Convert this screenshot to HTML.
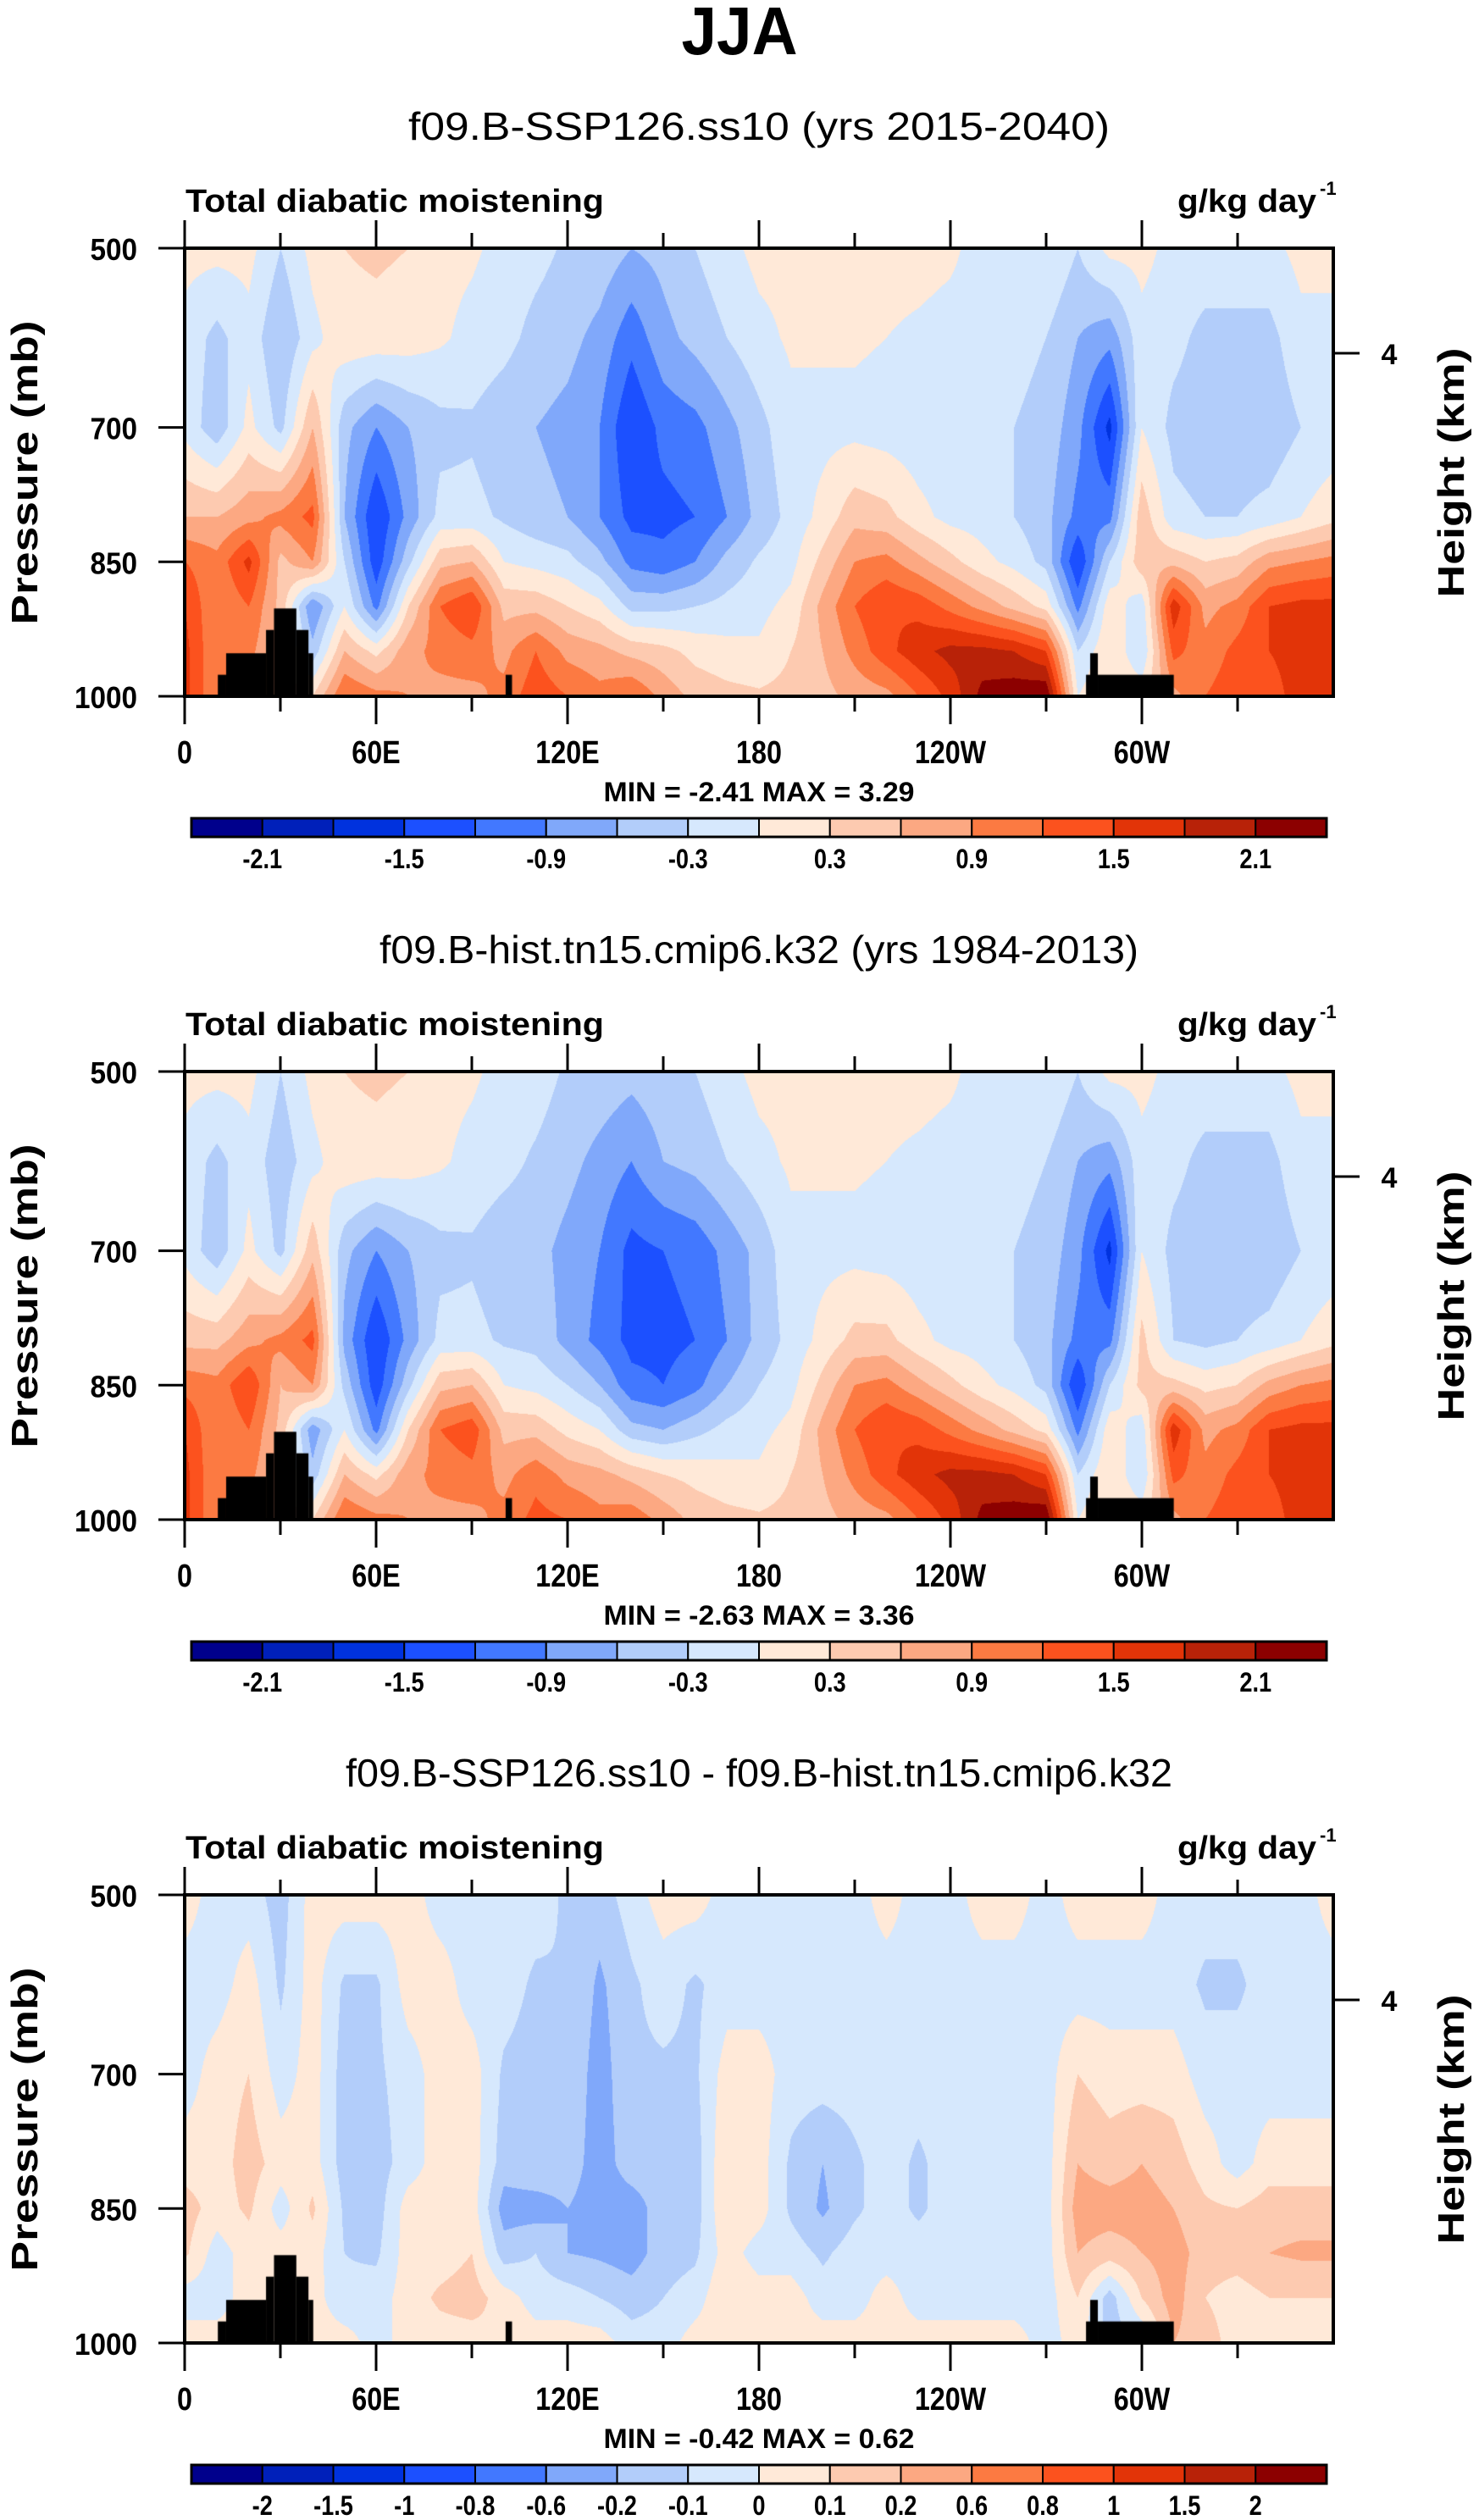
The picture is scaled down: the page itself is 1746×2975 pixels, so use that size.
<!DOCTYPE html>
<html><head><meta charset="utf-8">
<style>
html,body{margin:0;padding:0;background:#fff;}
#wrap{position:relative;width:1746px;height:2975px;overflow:hidden;background:#fff;}
canvas{position:absolute;}
svg{position:absolute;left:0;top:0;}
text{font-family:"Liberation Sans",sans-serif;fill:#000;}
</style></head>
<body>
<div id="wrap">
<canvas id="c0" width="1356" height="529" style="left:218px;top:293px"></canvas>
<canvas id="c1" width="1356" height="529" style="left:218px;top:1265px"></canvas>
<canvas id="c2" width="1356" height="529" style="left:218px;top:2237px"></canvas>
<svg id="ov" width="1746" height="2975">
<text x="873" y="64" font-size="80" font-weight="bold" text-anchor="middle" textLength="137" lengthAdjust="spacingAndGlyphs">JJA</text>
</svg>
</div>
<script>
const lons=[0,10,20,30,40,50,60,70,80,90,100,110,120,130,140,150,160,170,180,190,200,210,220,230,240,250,260,270,280,290,300,310,320,330,340,350,360];
const levels=[500,600,700,800,850,900,950,1000];
const panel1Values=[
[0.1,-0.1,-0.1,0.6,1.2,1.5,1.6,1.6],
[0.1,-0.4,-0.5,0.6,1.0,0.9,0.9,0.9],
[0.1,-0.1,0.1,0.8,1.6,1.2,1.0,1.0],
[-0.3,-0.6,-0.4,1.0,0.5,0.5,0.5,0.5],
[0.1,-0.1,0.6,1.3,0.9,-0.9,-0.5,0.3],
[0.3,0.2,-0.5,-0.6,-0.3,0.0,0.6,1.2],
[0.35,0.2,-0.9,-1.5,-1.4,-1.0,0.2,1.0],
[0.3,0.15,-0.6,-0.8,-0.4,0.3,0.8,0.9],
[0.1,0.05,-0.4,-0.2,0.5,1.2,1.0,0.8],
[0.05,-0.1,-0.35,-0.2,0.6,1.5,1.1,0.8],
[-0.1,-0.2,-0.5,-0.35,0.0,0.5,0.8,1.0],
[-0.2,-0.4,-0.6,-0.5,-0.1,0.5,1.2,1.4],
[-0.35,-0.5,-0.7,-0.6,-0.2,0.3,0.8,1.2],
[-0.4,-0.7,-0.9,-0.9,-0.5,0.1,0.7,1.0],
[-0.6,-1.1,-1.5,-1.3,-1.0,-0.4,0.5,1.2],
[-0.5,-0.7,-1.1,-1.3,-1.1,-0.4,0.4,0.8],
[-0.3,-0.5,-1.0,-1.2,-0.9,-0.3,0.2,0.5],
[-0.1,-0.3,-0.7,-0.9,-0.5,-0.2,0.1,0.4],
[0.1,-0.1,-0.4,-0.5,-0.25,-0.1,0.05,0.35],
[0.1,0.05,-0.1,-0.2,-0.1,0.1,0.3,0.4],
[0.1,0.05,-0.1,0.1,0.4,0.7,0.6,0.5],
[0.1,0.05,-0.1,0.5,0.9,1.2,1.0,0.7],
[0.1,0.0,-0.15,0.4,1.0,1.5,1.4,0.8],
[0.1,-0.05,-0.2,0.1,0.7,1.4,1.7,1.2],
[0.05,-0.1,-0.2,-0.1,0.4,1.1,1.9,1.6],
[-0.1,-0.1,-0.2,-0.15,0.1,0.8,1.9,2.2],
[-0.15,-0.2,-0.3,-0.3,-0.1,0.5,1.8,2.3],
[0.0,-0.3,-0.4,-0.5,-0.4,0.2,1.5,2.4],
[-0.3,-0.6,-0.8,-1.0,-1.5,-1.0,-0.3,0.0],
[0.1,-0.8,-1.6,-1.0,-0.3,0.2,0.3,0.3],
[0.1,-0.1,0.0,0.5,0.5,-0.2,-0.3,0.2],
[-0.1,-0.2,-0.4,-0.2,0.5,1.7,1.3,0.8],
[-0.1,-0.4,-0.5,-0.3,0.3,0.8,1.0,1.2],
[-0.1,-0.4,-0.5,-0.3,0.4,1.0,1.3,1.4],
[-0.1,-0.4,-0.5,-0.2,0.8,1.5,1.5,1.4],
[0.1,-0.1,-0.3,0.0,0.9,1.6,1.6,1.6],
[0.1,-0.1,-0.2,0.2,1.0,1.6,1.6,1.6]];
const panel2Values=[
[0.1,-0.1,-0.1,0.5,1.1,1.5,1.6,1.6],
[0.1,-0.4,-0.5,0.5,1.0,0.9,0.9,0.9],
[0.1,-0.1,0.1,0.8,1.5,1.2,1.0,1.0],
[-0.3,-0.5,-0.4,1.0,0.6,0.5,0.5,0.5],
[0.1,-0.1,0.5,1.3,0.9,-0.8,-0.5,0.3],
[0.3,0.2,-0.5,-0.7,-0.4,0.0,0.6,1.2],
[0.35,0.2,-0.9,-1.5,-1.4,-1.0,0.2,1.0],
[0.3,0.15,-0.6,-0.8,-0.4,0.3,0.8,0.9],
[0.1,0.05,-0.4,-0.2,0.5,1.2,1.0,0.8],
[0.05,-0.1,-0.35,-0.2,0.6,1.4,1.1,0.8],
[-0.1,-0.2,-0.5,-0.35,0.0,0.5,0.8,1.0],
[-0.15,-0.35,-0.5,-0.4,-0.1,0.5,1.1,1.3],
[-0.35,-0.5,-0.7,-0.7,-0.3,0.2,0.8,1.2],
[-0.4,-0.7,-0.9,-1.0,-0.6,0.0,0.7,1.0],
[-0.5,-0.9,-1.3,-1.3,-1.1,-0.5,0.5,1.1],
[-0.4,-0.6,-1.2,-1.3,-1.2,-0.6,0.3,0.8],
[-0.3,-0.5,-1.1,-1.2,-1.0,-0.4,0.2,0.5],
[-0.1,-0.3,-0.8,-0.9,-0.6,-0.2,0.1,0.4],
[0.1,-0.1,-0.5,-0.5,-0.3,-0.1,0.05,0.35],
[0.1,0.05,-0.1,-0.2,-0.1,0.1,0.3,0.4],
[0.1,0.05,-0.1,0.1,0.4,0.7,0.6,0.5],
[0.1,0.05,-0.1,0.4,0.9,1.2,1.0,0.7],
[0.1,0.0,-0.15,0.4,1.0,1.5,1.4,0.8],
[0.1,-0.05,-0.2,0.1,0.7,1.4,1.7,1.2],
[0.05,-0.1,-0.2,-0.1,0.4,1.1,1.9,1.6],
[-0.1,-0.1,-0.2,-0.15,0.1,0.8,1.9,2.2],
[-0.15,-0.2,-0.3,-0.3,-0.1,0.5,1.8,2.3],
[0.0,-0.3,-0.4,-0.5,-0.4,0.2,1.5,2.4],
[-0.3,-0.6,-0.8,-1.0,-1.5,-1.0,-0.3,0.0],
[0.1,-0.8,-1.6,-1.0,-0.3,0.2,0.3,0.3],
[0.1,-0.1,0.0,0.4,0.4,-0.2,-0.3,0.2],
[-0.1,-0.2,-0.4,-0.3,0.4,1.7,1.3,0.8],
[-0.1,-0.4,-0.5,-0.4,0.2,0.8,1.0,1.2],
[-0.1,-0.4,-0.5,-0.3,0.3,1.0,1.3,1.4],
[-0.1,-0.4,-0.5,-0.2,0.7,1.5,1.5,1.4],
[0.1,-0.1,-0.3,0.0,0.9,1.6,1.6,1.6],
[0.1,-0.1,-0.2,0.2,1.0,1.6,1.6,1.6]];
const panel3Values=[
[0.05,-0.05,-0.05,0.05,0.15,0.12,-0.05,0.05],
[-0.05,-0.05,0.05,0.05,0.05,-0.05,-0.05,0.05],
[-0.05,0.05,0.1,0.15,0.12,0.05,0.05,0.05],
[-0.15,-0.12,-0.05,0.05,-0.05,0.05,0.05,0.05],
[0.05,0.05,0.05,0.05,0.12,0.05,0.05,0.05],
[0.05,-0.12,-0.15,-0.15,-0.12,-0.1,-0.08,0.05],
[0.05,-0.12,-0.12,-0.15,-0.15,-0.12,-0.05,-0.05],
[0.05,0.05,-0.05,-0.05,0.05,0.05,0.05,0.05],
[-0.05,0.05,0.05,0.05,0.05,0.05,0.12,0.05],
[-0.05,-0.05,0.05,0.05,0.05,0.1,0.15,0.05],
[-0.05,-0.05,-0.12,-0.15,-0.25,-0.15,0.05,0.1],
[-0.05,-0.12,-0.15,-0.12,-0.25,-0.1,-0.05,0.05],
[-0.12,-0.1,-0.12,-0.15,-0.2,-0.2,-0.05,0.05],
[-0.15,-0.22,-0.25,-0.25,-0.25,-0.22,-0.1,0.05],
[-0.05,-0.12,-0.12,-0.15,-0.25,-0.25,-0.15,-0.05],
[0.05,-0.05,-0.12,-0.15,-0.15,-0.15,-0.1,-0.05],
[0.05,-0.12,-0.12,-0.15,-0.15,-0.12,-0.05,0.05],
[-0.05,-0.05,0.05,0.1,0.1,0.05,0.1,0.05],
[-0.05,-0.05,0.05,0.05,0.05,-0.05,0.05,0.05],
[-0.05,-0.05,-0.05,-0.12,-0.12,-0.05,0.05,0.05],
[-0.05,-0.05,-0.05,-0.2,-0.22,-0.12,-0.05,0.05],
[-0.05,-0.05,-0.05,-0.12,-0.12,-0.05,-0.05,0.05],
[0.05,-0.05,-0.05,-0.05,-0.05,-0.05,0.05,0.05],
[-0.05,-0.05,-0.05,-0.12,-0.12,-0.05,-0.05,0.05],
[-0.05,-0.05,-0.05,-0.05,-0.05,-0.05,-0.05,0.05],
[0.05,-0.05,-0.05,-0.05,-0.05,-0.05,-0.05,0.05],
[0.05,-0.05,-0.05,-0.05,-0.05,-0.05,-0.05,0.05],
[-0.05,-0.05,-0.05,-0.05,-0.05,-0.05,-0.05,-0.05],
[0.05,-0.05,0.1,0.2,0.25,0.2,0.1,0.05],
[0.05,-0.05,0.05,0.15,0.25,0.15,-0.15,-0.15],
[0.05,-0.05,0.05,0.2,0.25,0.2,0.1,-0.1],
[-0.05,-0.05,0.05,0.15,0.2,0.25,0.25,0.2],
[-0.05,-0.12,-0.05,0.05,0.12,0.15,0.1,0.15],
[-0.05,-0.12,-0.05,-0.05,0.1,0.15,0.05,0.05],
[-0.05,-0.05,-0.05,0.05,0.15,0.2,0.1,0.05],
[-0.05,-0.05,-0.05,0.05,0.15,0.22,0.1,0.05],
[0.05,-0.05,-0.05,0.05,0.15,0.22,0.1,0.05]];
const bounds12=[-2.1,-1.8,-1.5,-1.2,-0.9,-0.6,-0.3,0,0.3,0.6,0.9,1.2,1.5,1.8,2.1];
const bounds3=[-2,-1.5,-1,-0.8,-0.6,-0.2,-0.1,0,0.1,0.2,0.6,0.8,1,1.5,2];
const cbLabels12=["-2.1","-1.5","-0.9","-0.3","0.3","0.9","1.5","2.1"];
const cbLabelIdx12=[0,2,4,6,8,10,12,14];
const cbLabels3=["-2","-1.5","-1","-0.8","-0.6","-0.2","-0.1","0","0.1","0.2","0.6","0.8","1","1.5","2"];
const topoLon0=[10.4,13,25.5,28,35,38.8,100.6,282.5,283.8,286.2];
const topoLon1=[13,25.5,28,35,38.8,40.3,102.6,283.8,286.2,310];
const topoP=[976,952,926,902,926,952,976,976,952,976];
const subtitles=["f09.B-SSP126.ss10 (yrs 2015-2040)","f09.B-hist.tn15.cmip6.k32 (yrs 1984-2013)","f09.B-SSP126.ss10 - f09.B-hist.tn15.cmip6.k32"];
const subtitleWidths=[828,896,976];
const minmax=[["-2.41","3.29"],["-2.63","3.36"],["-0.42","0.62"]];
const xTickLabels=["0","60E","120E","180","120W","60W"];
const xTickLons=[0,60,120,180,240,300];
const yTickLabels=["500","700","850","1000"];
const yTickP=[500,700,850,1000];
const palette=[[0,0,140],[0,32,186],[0,50,222],[28,80,255],[66,120,255],[128,168,250],[178,205,250],[214,232,253],[255,233,216],[253,202,176],[252,168,130],[252,122,66],[252,82,30],[226,52,8],[184,34,8],[140,0,0]];

const PX=218,PW=1356,PH=529,PT=293,DY=972;
function xOf(lon){return PX+lon/360*PW;}
function yOf(p){return (p-500)/500*PH;}
function colorIdx(v,b){let i=0;while(i<b.length&&v>=b[i])i++;return i;}

function drawField(cv,vals,b){
  const ctx=cv.getContext('2d');
  const img=ctx.createImageData(PW,PH);
  for(let y=0;y<PH;y++){
    const p=500+y/(PH-1)*500;
    let r=0;while(r<levels.length-2&&p>levels[r+1])r++;
    const fy=(p-levels[r])/(levels[r+1]-levels[r]);
    for(let x=0;x<PW;x++){
      const lon=x/(PW-1)*360;
      let c=Math.min(Math.floor(lon/10),lons.length-2);
      const fx=(lon-lons[c])/(lons[c+1]-lons[c]);
      const v=(vals[c][r]*(1-fx)+vals[c+1][r]*fx)*(1-fy)+(vals[c][r+1]*(1-fx)+vals[c+1][r+1]*fx)*fy;
      const col=palette[colorIdx(v,b)];
      const k=(y*PW+x)*4;
      img.data[k]=col[0];img.data[k+1]=col[1];img.data[k+2]=col[2];img.data[k+3]=255;
    }
  }
  ctx.putImageData(img,0,0);
  ctx.fillStyle='#000';
  for(let i=0;i<topoP.length;i++){
    const x0=topoLon0[i]/360*PW,x1=topoLon1[i]/360*PW;
    ctx.fillRect(x0,yOf(topoP[i]),x1-x0,PH-yOf(topoP[i]));
  }
}
drawField(document.getElementById('c0'),panel1Values,bounds12);
drawField(document.getElementById('c1'),panel2Values,bounds12);
drawField(document.getElementById('c2'),panel3Values,bounds3);

const NS='http://www.w3.org/2000/svg';
const svg=document.getElementById('ov');
function mk(tag,attrs,txt){const e=document.createElementNS(NS,tag);for(const k in attrs)e.setAttribute(k,attrs[k]);if(txt!==undefined)e.textContent=txt;svg.appendChild(e);return e;}

for(let pi=0;pi<3;pi++){
  const o=pi*DY, top=PT+o, bot=top+PH;
  let e;
  e=mk('text',{x:896,y:165+o,'font-size':46,'text-anchor':'middle',textLength:subtitleWidths[pi],lengthAdjust:'spacingAndGlyphs'},subtitles[pi]);
  
  
  e=mk('text',{x:219,y:250+o,'font-size':38,'font-weight':'bold',textLength:494,lengthAdjust:'spacingAndGlyphs'},'Total diabatic moistening');
  
  
  e=mk('text',{x:1390,y:250+o,'font-size':38,'font-weight':'bold',textLength:164,lengthAdjust:'spacingAndGlyphs'},'g/kg day');
  
  
  e=mk('text',{x:1558,y:230+o,'font-size':22,'font-weight':'bold'},'-1');
  
  
  e=mk('rect',{x:PX,y:top,width:PW,height:PH,fill:'none',stroke:'#000','stroke-width':4});
  
  
  for(let l=0;l<=330;l+=30){
    const major=l%60===0, len=major?33:18, x=xOf(l);
    e=mk('line',{x1:x,y1:bot,x2:x,y2:bot+len,stroke:'#000','stroke-width':3});
    
    
    e=mk('line',{x1:x,y1:top,x2:x,y2:top-(major?33:18),stroke:'#000','stroke-width':3});
    
    
  }
  for(let i=0;i<xTickLabels.length;i++){
    const x=xOf(xTickLons[i]);
    e=mk('text',{x:x,y:901+o,'font-size':38,'font-weight':'bold','text-anchor':'middle',transform:'translate('+x+',0) scale(0.85,1) translate('+(-x)+',0)'},xTickLabels[i]);
    
    
  }
  for(let i=0;i<yTickP.length;i++){
    const y=top+yOf(yTickP[i]);
    e=mk('line',{x1:PX,y1:y,x2:PX-31,y2:y,stroke:'#000','stroke-width':3});
    
    
    e=mk('text',{x:162,y:y+14,'font-size':36,'font-weight':'bold','text-anchor':'end',textLength:yTickLabels[i].length*18.5,lengthAdjust:'spacingAndGlyphs'},yTickLabels[i]);
    
    
  }
  e=mk('line',{x1:PX+PW,y1:top+124,x2:PX+PW+31,y2:top+124,stroke:'#000','stroke-width':3});
  
  
  e=mk('text',{x:1640,y:top+137,'font-size':34,'font-weight':'bold','text-anchor':'middle'},'4');
  
  
  e=mk('text',{x:0,y:0,'font-size':44,'font-weight':'bold','text-anchor':'middle',transform:'translate(44,'+(558+o)+') rotate(-90)',textLength:359,lengthAdjust:'spacingAndGlyphs'},'Pressure (mb)');
  
  
  e=mk('text',{x:0,y:0,'font-size':44,'font-weight':'bold','text-anchor':'middle',transform:'translate(1728,'+(558+o)+') rotate(-90)',textLength:295,lengthAdjust:'spacingAndGlyphs'},'Height (km)');
  
  
  e=mk('text',{x:896,y:946+o,'font-size':32,'font-weight':'bold','text-anchor':'middle',textLength:367,lengthAdjust:'spacingAndGlyphs','xml:space':'preserve'},'MIN =  '+minmax[pi][0]+'  MAX =   '+minmax[pi][1]);
  
  
  const cbL=226,cbR=1566,cbT=966+o,cbH=22,bw=(cbR-cbL)/16;
  for(let k=0;k<16;k++){
    const c=palette[k];
    e=mk('rect',{x:cbL+k*bw,y:cbT,width:bw,height:cbH,fill:'rgb('+c.join(',')+')',stroke:'#000','stroke-width':2});
    
    
  }
  e=mk('rect',{x:cbL,y:cbT,width:cbR-cbL,height:cbH,fill:'none',stroke:'#000','stroke-width':3});
  
  
  const labs=pi<2?cbLabels12:cbLabels3, idx=pi<2?cbLabelIdx12:cbLabels3.map((_,i)=>i);
  for(let i=0;i<labs.length;i++){
    const x=cbL+(idx[i]+1)*bw;
    e=mk('text',{x:x,y:cbT+59,'font-size':32,'font-weight':'bold','text-anchor':'middle',transform:'translate('+x+',0) scale(0.85,1) translate('+(-x)+',0)'},labs[i]);
    
    
  }
}
</script>
</body></html>
